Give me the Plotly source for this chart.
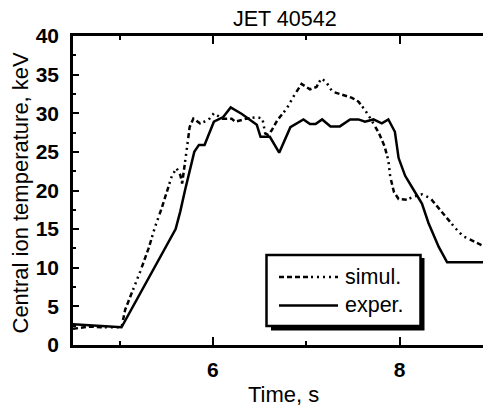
import plotly.graph_objects as go

# ---- data ----
time_exp = [4.5, 5.02, 5.6, 5.65, 5.70, 5.80, 5.85, 5.91, 6.01, 6.11, 6.19, 6.31, 6.47, 6.51,
            6.61, 6.71, 6.83, 6.92, 6.97, 7.04, 7.10, 7.17, 7.26, 7.36, 7.47, 7.56, 7.63, 7.72,
            7.81, 7.88, 7.95, 7.99, 8.06, 8.15, 8.24, 8.31, 8.42, 8.51, 9.0]
temp_exp = [2.7, 2.3, 15.0, 17.3, 20.0, 25.0, 25.9, 25.9, 28.9, 29.5, 30.75, 29.9, 28.5, 26.95,
            26.95, 24.9, 28.2, 28.8, 29.2, 28.6, 28.6, 29.2, 28.3, 28.3, 29.2, 29.2, 28.9, 29.2,
            28.7, 29.2, 27.6, 24.2, 21.9, 20.1, 18.3, 15.8, 12.7, 10.7, 10.7]

time_sim = [4.5, 4.69, 4.8, 5.02, 5.06, 5.13, 5.22, 5.31, 5.38, 5.45, 5.53, 5.56, 5.61, 5.65,
            5.67, 5.70, 5.72, 5.75, 5.79, 5.86, 5.95, 6.01, 6.10, 6.20, 6.24, 6.36, 6.47, 6.53,
            6.56, 6.59, 6.63, 6.69, 6.79, 6.88, 6.95, 7.04, 7.11, 7.16, 7.21, 7.28, 7.33, 7.49,
            7.56, 7.63, 7.70, 7.78, 7.84, 7.88, 7.90, 7.94, 7.99, 8.08, 8.15, 8.24, 8.33, 8.42,
            8.51, 8.60, 8.68, 8.79, 8.90, 9.0]
temp_sim = [2.1, 2.4, 2.3, 2.3, 4.6, 6.7, 9.5, 12.5, 15.3, 17.7, 20.7, 21.9, 22.9, 22.0,
            20.9, 23.3, 25.4, 28.2, 29.3, 28.7, 29.1, 30.0, 29.3, 29.3, 28.9, 29.3, 29.5, 29.3,
            27.4, 27.2, 27.8, 29.1, 30.6, 32.5, 33.8, 33.1, 33.4, 34.5, 34.1, 32.8, 32.6, 32.0,
            31.5, 30.4, 29.1, 27.4, 25.7, 23.9, 21.8, 19.8, 18.9, 18.8, 19.2, 19.5, 19.0, 17.7,
            16.4, 15.1, 14.1, 13.4, 12.8, 12.8]

series_names = ["simul.", "exper."]
title_text = "JET 40542"
x_title = "Time, s"
y_title = "Central ion temperature, keV"

# ---- layout geometry (page is offset by the 8px body margin) ----
OFF = 8
W, H = 491 - OFF, 409 - OFF
L, R, T = 73 - OFF, 0, 36 - OFF
B = H - (345 - OFF)
PW, PH = W - L - R, H - T - B
X0 = 4.5
PX_PER_S = 93.3
X1 = X0 + PW / PX_PER_S

FONT = "Liberation Sans, Arial, sans-serif"
SIM_DASH = "5px,3px,5px,3px,5px,3px,5px,3px,2px,4px,2px,4px,2px,4px,2px,4px"


def px(x):
    """page pixel x -> paper coordinate"""
    return (x - OFF - L) / PW


def py(y):
    """page pixel y -> paper coordinate"""
    return (H - B - (y - OFF)) / PH


fig = go.Figure()
fig.add_trace(go.Scatter(x=time_sim, y=temp_sim, mode="lines", name=series_names[0],
                         line=dict(color="black", width=2.5, dash=SIM_DASH),
                         showlegend=False, hoverinfo="skip"))
fig.add_trace(go.Scatter(x=time_exp, y=temp_exp, mode="lines", name=series_names[1],
                         line=dict(color="black", width=2.5),
                         showlegend=False, hoverinfo="skip"))
# invisible trace so that the right-hand tick axis is drawn
fig.add_trace(go.Scatter(x=time_exp[:1], y=temp_exp[:1], mode="markers", yaxis="y2",
                         marker=dict(opacity=0), showlegend=False, hoverinfo="skip"))

tickfont = dict(family=FONT, size=21, color="black", weight="bold")

fig.update_layout(
    width=W, height=H,
    margin=dict(l=L, r=R, t=T, b=B, pad=0),
    paper_bgcolor="white", plot_bgcolor="white",
    font=dict(family=FONT, color="black"),
    xaxis=dict(range=[X0, X1], dtick=2, tick0=0, ticks="inside", ticklen=8, tickwidth=2,
               tickcolor="black", showline=True, linewidth=2.5, linecolor="black",
               mirror="ticks", showgrid=False, zeroline=False, tickfont=tickfont,
               ticklabelstandoff=4,
               minor=dict(dtick=1, tick0=0, ticks="inside", ticklen=4, tickwidth=2,
                          tickcolor="black", showgrid=False)),
    yaxis=dict(range=[0, 40], dtick=5, ticks="inside", ticklen=6, tickwidth=2,
               tickcolor="black", showline=True, linewidth=2.5, linecolor="black",
               showgrid=False, zeroline=False, tickfont=tickfont, ticklabelstandoff=7,
               minor=dict(dtick=2.5, ticks="inside", ticklen=3, tickwidth=2,
                          tickcolor="black", showgrid=False)),
    yaxis2=dict(range=[0, 40], dtick=5, overlaying="y", side="right", anchor="x",
                ticks="inside", ticklen=7, tickwidth=2, tickcolor="black",
                showline=False, showgrid=False, zeroline=False, showticklabels=False,
                minor=dict(dtick=2.5, ticks="inside", ticklen=3, tickwidth=2,
                           tickcolor="black", showgrid=False)),
    showlegend=False,
)

# titles as text annotations
fig.add_annotation(text=title_text, xref="paper", yref="paper", x=px(284.5), y=py(19),
                   xanchor="center", yanchor="middle", showarrow=False,
                   font=dict(family=FONT, size=21.5, color="black"))
fig.add_annotation(text=x_title, xref="paper", yref="paper", x=px(283), y=py(394),
                   xanchor="center", yanchor="middle", showarrow=False,
                   font=dict(family=FONT, size=22, color="black"))
fig.add_annotation(text=y_title, xref="paper", yref="paper", x=px(19.5), y=py(193),
                   xanchor="center", yanchor="middle", showarrow=False, textangle=-90,
                   font=dict(family=FONT, size=22, color="black"))

# legend box with drop shadow
fig.add_shape(type="rect", xref="paper", yref="paper", x0=px(271), x1=px(424.5),
              y0=py(330.5), y1=py(258), fillcolor="black", line=dict(width=0))
fig.add_shape(type="rect", xref="paper", yref="paper", x0=px(266.5), x1=px(420.5),
              y0=py(326), y1=py(255), fillcolor="white", line=dict(color="black", width=2.5))
fig.add_shape(type="line", xref="paper", yref="paper", x0=px(279), x1=px(338),
              y0=py(277), y1=py(277), line=dict(color="black", width=2.5, dash=SIM_DASH))
fig.add_shape(type="line", xref="paper", yref="paper", x0=px(279), x1=px(338),
              y0=py(305.5), y1=py(305.5), line=dict(color="black", width=2.5))
fig.add_annotation(text=series_names[0], xref="paper", yref="paper", x=px(343), y=py(277),
                   xanchor="left", yanchor="middle", showarrow=False,
                   font=dict(family=FONT, size=21.5, color="black"))
fig.add_annotation(text=series_names[1], xref="paper", yref="paper", x=px(343), y=py(305),
                   xanchor="left", yanchor="middle", showarrow=False,
                   font=dict(family=FONT, size=21.5, color="black"))

fig.write_html("out.html")
